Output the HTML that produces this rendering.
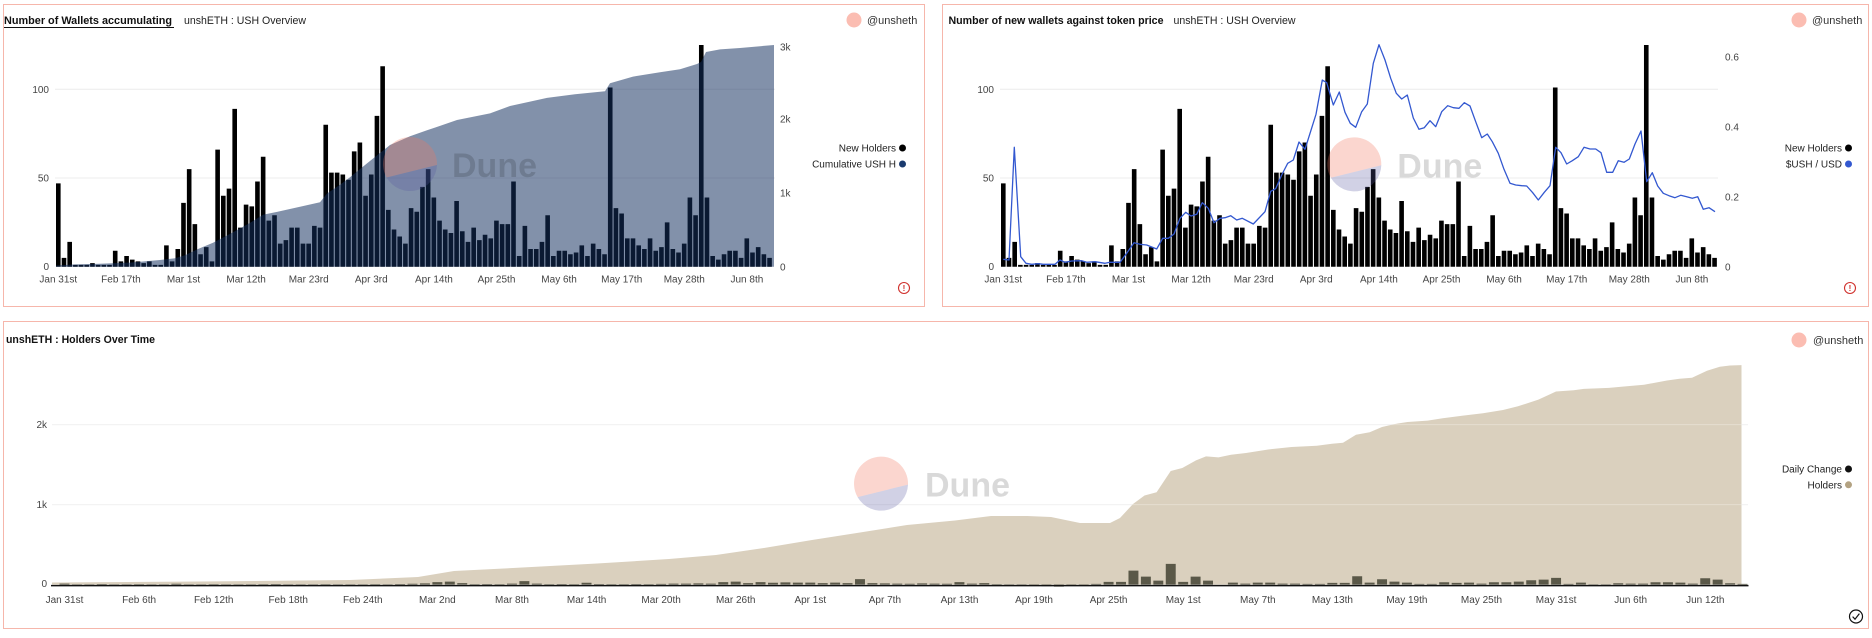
<!DOCTYPE html>
<html>
<head>
<meta charset="utf-8">
<style>
html,body{margin:0;padding:0;background:#fff;}
body{width:1872px;height:638px;overflow:hidden;}
svg{display:block;}
text{font-family:"Liberation Sans",Arial,sans-serif;}
.t{font-size:10px;fill:#444;}
.lg{font-size:10px;fill:#222;}
.ttl{font-size:10.7px;font-weight:bold;fill:#111;}
.sub{font-size:10.7px;fill:#222;}
.usr{font-size:11px;fill:#333;}
.wm{font-size:34px;font-weight:bold;fill:rgba(0,0,0,0.15);}
</style>
</head>
<body>
<svg width="1872" height="638" viewBox="0 0 1872 638" xmlns="http://www.w3.org/2000/svg">
<rect x="0" y="0" width="1872" height="638" fill="#fff"/>

<!-- Panels -->
<rect x="3.5" y="4.5" width="921" height="302" fill="none" stroke="#f6b6ab" stroke-width="1"/>
<rect x="942.5" y="4.5" width="926" height="302" fill="none" stroke="#f6b6ab" stroke-width="1"/>
<rect x="3.5" y="321.5" width="1865" height="307" fill="none" stroke="#f6b6ab" stroke-width="1"/>

<!-- ================= PANEL 1 ================= -->
<text class="ttl" x="4" y="24" textLength="168" lengthAdjust="spacingAndGlyphs">Number of Wallets accumulating</text>
<line x1="4" y1="27.5" x2="174" y2="27.5" stroke="#111" stroke-width="1"/>
<text class="sub" x="184" y="24" textLength="122" lengthAdjust="spacingAndGlyphs">unshETH : USH Overview</text>
<circle cx="854" cy="20" r="7.5" fill="#fbbdb2"/>
<text class="usr" x="867" y="24">@unsheth</text>

<!-- gridlines -->
<line x1="55" y1="89.3" x2="775" y2="89.3" stroke="#ececec" stroke-width="1"/>
<line x1="55" y1="178" x2="775" y2="178" stroke="#ececec" stroke-width="1"/>

<!-- y labels left -->
<text class="t" x="49" y="92.8" text-anchor="end">100</text>
<text class="t" x="49" y="181.5" text-anchor="end">50</text>
<text class="t" x="49" y="270.2" text-anchor="end">0</text>
<!-- y labels right -->
<text class="t" x="780" y="50.5">3k</text>
<text class="t" x="780" y="122.5">2k</text>
<text class="t" x="780" y="196.5">1k</text>
<text class="t" x="780" y="270.5">0</text>

<!-- bars -->
<path fill="#000" transform="translate(56,266.7) scale(5.69,-1.774)" d="M0 0v47h.81v-47h.19v5h.81v-5h.19v14h.81v-14h.19v1h.81v-1h.19v1h.81v-1h.19v1h.81v-1h.19v2h.81v-2h.19v1h.81v-1h.19v1h.81v-1h.19v1h.81v-1h.19v9h.81v-9h.19v3h.81v-3h.19v6h.81v-6h.19v4h.81v-4h.19v3h.81v-3h.19v2h.81v-2h.19v3h.81v-3h.19v1h.81v-1h.19v1h.81v-1h.19v12h.81v-12h.19v3h.81v-3h.19v10h.81v-10h.19v36h.81v-36h.19v55h.81v-55h.19v24h.81v-24h.19v7h.81v-7h.19v11h.81v-11h.19v3h.81v-3h.19v66h.81v-66h.19v40h.81v-40h.19v44h.81v-44h.19v89h.81v-89h.19v22h.81v-22h.19v35h.81v-35h.19v34h.81v-34h.19v48h.81v-48h.19v62h.81v-62h.19v26h.81v-26h.19v29h.81v-29h.19v13h.81v-13h.19v15h.81v-15h.19v22h.81v-22h.19v22h.81v-22h.19v13h.81v-13h.19v13h.81v-13h.19v23h.81v-23h.19v22h.81v-22h.19v80h.81v-80h.19v53h.81v-53h.19v53h.81v-53h.19v52h.81v-52h.19v49h.81v-49h.19v65h.81v-65h.19v70h.81v-70h.19v40h.81v-40h.19v52h.81v-52h.19v85h.81v-85h.19v113h.81v-113h.19v32h.81v-32h.19v21h.81v-21h.19v17h.81v-17h.19v13h.81v-13h.19v33h.81v-33h.19v31h.81v-31h.19v45h.81v-45h.19v55h.81v-55h.19v39h.81v-39h.19v26h.81v-26h.19v21h.81v-21h.19v19h.81v-19h.19v37h.81v-37h.19v20h.81v-20h.19v14h.81v-14h.19v22h.81v-22h.19v15h.81v-15h.19v18h.81v-18h.19v16h.81v-16h.19v26h.81v-26h.19v24h.81v-24h.19v24h.81v-24h.19v48h.81v-48h.19v6h.81v-6h.19v23h.81v-23h.19v10h.81v-10h.19v10h.81v-10h.19v14h.81v-14h.19v29h.81v-29h.19v6h.81v-6h.19v9h.81v-9h.19v9h.81v-9h.19v7h.81v-7h.19v8h.81v-8h.19v12h.81v-12h.19v6h.81v-6h.19v13h.81v-13h.19v10h.81v-10h.19v7h.81v-7h.19v101h.81v-101h.19v33h.81v-33h.19v30h.81v-30h.19v16h.81v-16h.19v16h.81v-16h.19v12h.81v-12h.19v10h.81v-10h.19v16h.81v-16h.19v9h.81v-9h.19v11h.81v-11h.19v25h.81v-25h.19v10h.81v-10h.19v8h.81v-8h.19v13h.81v-13h.19v39h.81v-39h.19v29h.81v-29h.19v125h.81v-125h.19v39h.81v-39h.19v6h.81v-6h.19v4h.81v-4h.19v7h.81v-7h.19v9h.81v-9h.19v9h.81v-9h.19v5h.81v-5h.19v16h.81v-16h.19v8h.81v-8h.19v11h.81v-11h.19v7h.81v-7h.19v5h.81v-5h.19"/>

<!-- cumulative area -->
<polygon fill="#132f5e" fill-opacity="0.53" points="56,266.7 56,265.5 75,264.4 100,263.7 130,262.6 160,260 175,258.2 185,255.2 198,249 213,242.7 230,233.9 250,222.9 263,214.8 277,211.9 300,206.7 320,202.3 327,193.5 340,184.7 350,177.3 367,163.4 390,145 410,136.2 427,130.3 440,125.9 457,120 490,113.4 510,106 530,101.6 547,97.9 575,94.3 605,91.3 610,83.3 633,76.6 660,72.2 680,69.3 697,64 701,62 706,52 720,49.4 740,48 774,45 774,266.7"/>

<!-- watermark 1 -->
<g transform="translate(410,164)">
<path d="M-23.4,13.5 A27,27 0 1,1 27,1 Z" fill="rgba(242,120,95,0.3)"/>
<path d="M27,1 A27,27 0 0,1 -23.4,13.5 Z" fill="rgba(90,90,160,0.28)"/>
<text class="wm" x="42" y="13">Dune</text>
</g>

<!-- x labels -->
<g class="t" text-anchor="middle">
<text class="t" x="58.3" y="282.5" text-anchor="middle">Jan 31st</text>
<text class="t" x="120.9" y="282.5" text-anchor="middle">Feb 17th</text>
<text class="t" x="183.5" y="282.5" text-anchor="middle">Mar 1st</text>
<text class="t" x="246.1" y="282.5" text-anchor="middle">Mar 12th</text>
<text class="t" x="308.7" y="282.5" text-anchor="middle">Mar 23rd</text>
<text class="t" x="371.3" y="282.5" text-anchor="middle">Apr 3rd</text>
<text class="t" x="433.9" y="282.5" text-anchor="middle">Apr 14th</text>
<text class="t" x="496.5" y="282.5" text-anchor="middle">Apr 25th</text>
<text class="t" x="559.1" y="282.5" text-anchor="middle">May 6th</text>
<text class="t" x="621.7" y="282.5" text-anchor="middle">May 17th</text>
<text class="t" x="684.3" y="282.5" text-anchor="middle">May 28th</text>
<text class="t" x="746.9" y="282.5" text-anchor="middle">Jun 8th</text>
</g>

<!-- legend -->
<text class="lg" x="896" y="151.5" text-anchor="end">New Holders</text>
<circle cx="902.5" cy="148" r="3.5" fill="#000"/>
<text class="lg" x="896" y="167.5" text-anchor="end">Cumulative USH H</text>
<circle cx="902.5" cy="164" r="3.5" fill="#1a3a6e"/>

<!-- warning icon -->
<circle cx="904" cy="288" r="5.5" fill="none" stroke="#d0312d" stroke-width="1.1"/>
<text x="904" y="291" font-size="8" font-weight="bold" fill="#d0312d" text-anchor="middle">!</text>

<!-- ================= PANEL 2 ================= -->
<text class="ttl" x="948.5" y="24" textLength="215" lengthAdjust="spacingAndGlyphs">Number of new wallets against token price</text>
<text class="sub" x="1173.5" y="24" textLength="122" lengthAdjust="spacingAndGlyphs">unshETH : USH Overview</text>
<circle cx="1799" cy="20" r="7.5" fill="#fbbdb2"/>
<text class="usr" x="1812" y="24">@unsheth</text>

<line x1="1000" y1="89.3" x2="1718" y2="89.3" stroke="#ececec" stroke-width="1"/>
<line x1="1000" y1="178" x2="1718" y2="178" stroke="#ececec" stroke-width="1"/>

<text class="t" x="994" y="92.8" text-anchor="end">100</text>
<text class="t" x="994" y="181.5" text-anchor="end">50</text>
<text class="t" x="994" y="270.2" text-anchor="end">0</text>
<text class="t" x="1725" y="60.5">0.6</text>
<text class="t" x="1725" y="130.5">0.4</text>
<text class="t" x="1725" y="200.5">0.2</text>
<text class="t" x="1725" y="270.5">0</text>

<path fill="#000" transform="translate(1001,266.7) scale(5.69,-1.774)" d="M0 0v47h.81v-47h.19v5h.81v-5h.19v14h.81v-14h.19v1h.81v-1h.19v1h.81v-1h.19v1h.81v-1h.19v2h.81v-2h.19v1h.81v-1h.19v1h.81v-1h.19v1h.81v-1h.19v9h.81v-9h.19v3h.81v-3h.19v6h.81v-6h.19v4h.81v-4h.19v3h.81v-3h.19v2h.81v-2h.19v3h.81v-3h.19v1h.81v-1h.19v1h.81v-1h.19v12h.81v-12h.19v3h.81v-3h.19v10h.81v-10h.19v36h.81v-36h.19v55h.81v-55h.19v24h.81v-24h.19v7h.81v-7h.19v11h.81v-11h.19v3h.81v-3h.19v66h.81v-66h.19v40h.81v-40h.19v44h.81v-44h.19v89h.81v-89h.19v22h.81v-22h.19v35h.81v-35h.19v34h.81v-34h.19v48h.81v-48h.19v62h.81v-62h.19v26h.81v-26h.19v29h.81v-29h.19v13h.81v-13h.19v15h.81v-15h.19v22h.81v-22h.19v22h.81v-22h.19v13h.81v-13h.19v13h.81v-13h.19v23h.81v-23h.19v22h.81v-22h.19v80h.81v-80h.19v53h.81v-53h.19v53h.81v-53h.19v52h.81v-52h.19v49h.81v-49h.19v65h.81v-65h.19v70h.81v-70h.19v40h.81v-40h.19v52h.81v-52h.19v85h.81v-85h.19v113h.81v-113h.19v32h.81v-32h.19v21h.81v-21h.19v17h.81v-17h.19v13h.81v-13h.19v33h.81v-33h.19v31h.81v-31h.19v45h.81v-45h.19v55h.81v-55h.19v39h.81v-39h.19v26h.81v-26h.19v21h.81v-21h.19v19h.81v-19h.19v37h.81v-37h.19v20h.81v-20h.19v14h.81v-14h.19v22h.81v-22h.19v15h.81v-15h.19v18h.81v-18h.19v16h.81v-16h.19v26h.81v-26h.19v24h.81v-24h.19v24h.81v-24h.19v48h.81v-48h.19v6h.81v-6h.19v23h.81v-23h.19v10h.81v-10h.19v10h.81v-10h.19v14h.81v-14h.19v29h.81v-29h.19v6h.81v-6h.19v9h.81v-9h.19v9h.81v-9h.19v7h.81v-7h.19v8h.81v-8h.19v12h.81v-12h.19v6h.81v-6h.19v13h.81v-13h.19v10h.81v-10h.19v7h.81v-7h.19v101h.81v-101h.19v33h.81v-33h.19v30h.81v-30h.19v16h.81v-16h.19v16h.81v-16h.19v12h.81v-12h.19v10h.81v-10h.19v16h.81v-16h.19v9h.81v-9h.19v11h.81v-11h.19v25h.81v-25h.19v10h.81v-10h.19v8h.81v-8h.19v13h.81v-13h.19v39h.81v-39h.19v29h.81v-29h.19v125h.81v-125h.19v39h.81v-39h.19v6h.81v-6h.19v4h.81v-4h.19v7h.81v-7h.19v9h.81v-9h.19v9h.81v-9h.19v5h.81v-5h.19v16h.81v-16h.19v8h.81v-8h.19v11h.81v-11h.19v7h.81v-7h.19v5h.81v-5h.19"/>

<!-- watermark 2 -->
<g transform="translate(1354.3,164.3)">
<path d="M-23.4,13.5 A27,27 0 1,1 27,1 Z" fill="rgba(242,120,95,0.3)"/>
<path d="M27,1 A27,27 0 0,1 -23.4,13.5 Z" fill="rgba(90,90,160,0.28)"/>
<text class="wm" x="43" y="13">Dune</text>
</g>

<!-- price line -->
<polyline fill="none" stroke="#3358d0" stroke-width="1.3" stroke-linejoin="round" points="1003.3,259.3 1009,260 1014.3,147.3 1020.7,256.7 1026,263.3 1031.7,264.3 1038.3,263.7 1043.3,264.3 1055,264.3 1060,260 1065,262.3 1071.7,261 1081.7,260.7 1086.7,262.3 1095,261.7 1105,263.3 1110,262.3 1120,262.3 1126.7,253.3 1134,242.7 1140,244.3 1146.7,245 1156.7,249 1162.7,238.3 1168.3,238.3 1174,234 1180,218.3 1185.7,212.3 1191,216 1196.7,214.3 1202.3,202.7 1208.3,208.3 1214,222.7 1220,218.3 1225,217.7 1230.7,215.7 1236.7,220 1242.3,218.3 1253.3,224 1265,211.7 1270.7,191.3 1275.7,188.7 1281.7,175 1287.7,163.3 1293.3,160 1299,142 1305,149.3 1316,114.3 1322.3,80 1326.7,82.7 1333.3,105 1339.3,92 1345,112.3 1350.3,123.3 1355.7,127.3 1361.7,111.7 1367.3,104 1373.3,63.3 1379,44.7 1385,60 1390.7,78.3 1396.3,93.3 1401.7,99 1407.3,95 1413.3,118 1419,129.3 1424.3,127.7 1430,120.7 1435.7,126.7 1441.7,111.7 1447.7,105.7 1453.3,107.7 1459,108.3 1464.3,102.7 1470,106 1475.7,121.7 1481.7,137.7 1487.3,134 1492.3,141.7 1498.3,153.3 1504,169.3 1510,183.3 1515.7,185 1521.7,185.7 1526.7,186 1532.7,192.7 1538.3,200 1544.3,192.3 1550,185.7 1555.7,147.3 1561,152.7 1566.7,164 1572.3,160.7 1578.3,156.7 1584,147.3 1590,149 1595.7,149 1601,152.7 1606.7,172.3 1612.7,172.3 1618.3,160.7 1624,162.3 1629.3,159 1635,144 1641,131 1646.7,181.7 1652.3,172.7 1657.7,186 1663.3,193.3 1669,195.7 1675,197.7 1680.7,195.3 1686.7,196.7 1692.3,198.3 1697.7,196.7 1703.3,209.3 1709,207.7 1715,211.7"/>

<text class="t" x="1003.3" y="282.5" text-anchor="middle">Jan 31st</text>
<text class="t" x="1065.9" y="282.5" text-anchor="middle">Feb 17th</text>
<text class="t" x="1128.5" y="282.5" text-anchor="middle">Mar 1st</text>
<text class="t" x="1191.1" y="282.5" text-anchor="middle">Mar 12th</text>
<text class="t" x="1253.7" y="282.5" text-anchor="middle">Mar 23rd</text>
<text class="t" x="1316.3" y="282.5" text-anchor="middle">Apr 3rd</text>
<text class="t" x="1378.9" y="282.5" text-anchor="middle">Apr 14th</text>
<text class="t" x="1441.5" y="282.5" text-anchor="middle">Apr 25th</text>
<text class="t" x="1504.1" y="282.5" text-anchor="middle">May 6th</text>
<text class="t" x="1566.7" y="282.5" text-anchor="middle">May 17th</text>
<text class="t" x="1629.3" y="282.5" text-anchor="middle">May 28th</text>
<text class="t" x="1691.9" y="282.5" text-anchor="middle">Jun 8th</text>

<text class="lg" x="1842" y="151.5" text-anchor="end">New Holders</text>
<circle cx="1848.5" cy="148" r="3.5" fill="#000"/>
<text class="lg" x="1842" y="167.5" text-anchor="end">$USH / USD</text>
<circle cx="1848.5" cy="164" r="3.5" fill="#3358d0"/>

<circle cx="1850" cy="288" r="5.5" fill="none" stroke="#d0312d" stroke-width="1.1"/>
<text x="1850" y="291" font-size="8" font-weight="bold" fill="#d0312d" text-anchor="middle">!</text>

<!-- ================= PANEL 3 ================= -->
<text class="ttl" x="6" y="343" textLength="149" lengthAdjust="spacingAndGlyphs">unshETH : Holders Over Time</text>
<circle cx="1799" cy="340" r="7.5" fill="#fbbdb2"/>
<text class="usr" x="1813" y="344">@unsheth</text>

<line x1="52" y1="424.6" x2="1748" y2="424.6" stroke="#ececec" stroke-width="1"/>
<line x1="52" y1="504.6" x2="1748" y2="504.6" stroke="#ececec" stroke-width="1"/>

<polygon fill="#dad0be" points="52,584.6 52,582.5 200,581.5 350,580 418,577 454,571 513,568 597,563.5 669,559 716,555 764,548 812,540 860,532.5 907,525 955,520.5 991,516 1027,516 1051,517 1080,523 1110,523 1120,518 1133,504 1144.5,495.5 1156.6,492.2 1170.7,471 1182.3,468 1196,460.4 1206,456.4 1218.5,457.4 1231,454.7 1246,453 1269,449.4 1291.6,447 1316.8,445.7 1332,443.7 1343,442.7 1356,434.7 1369.7,432.3 1382,427 1395,424 1407.5,422 1427.6,420.6 1442.7,418.3 1463,415.6 1483,413.3 1503,410 1518,406.3 1538.4,399.6 1556,391.5 1573.7,390.2 1583.8,388.9 1609,387.9 1624,386.5 1644,384.8 1667,380.5 1679.5,378.8 1692,377.8 1707,370.8 1719.8,366.8 1730,365.5 1741.5,365.1 1741.5,584.6"/>
<line x1="52" y1="424.6" x2="1748" y2="424.6" stroke="rgba(255,255,255,0.3)" stroke-width="1"/>
<line x1="52" y1="504.6" x2="1748" y2="504.6" stroke="rgba(255,255,255,0.3)" stroke-width="1"/>

<!-- watermark 3 -->
<g transform="translate(881,483.6)">
<path d="M-23.4,13.5 A27,27 0 1,1 27,1 Z" fill="rgba(242,120,95,0.3)"/>
<path d="M27,1 A27,27 0 0,1 -23.4,13.5 Z" fill="rgba(90,90,160,0.28)"/>
<text class="wm" x="44" y="13">Dune</text>
</g>

<!-- daily change bars -->
<path fill="#5a5848" transform="translate(59.5,584.6) scale(12.43,-1)" d="M0 0v1h.8v-1h.2v.4h.8v-.4h.2v.4h.8v-.4h.2v.6h.8v-.6h.2v.4h.8v-.4h.2v.3h.8v-.3h.2v.5h.8v-.5h.2v.4h.8v-.4h.2v.4h.8v-.4h.2v.8h.8v-.8h.2v.4h.8v-.4h.2v.3h.8v-.3h.2v.5h.8v-.5h.2v.4h.8v-.4h.2v.4h.8v-.4h.2v.3h.8v-.3h.2v.5h.8v-.5h.2v.6h.8v-.6h.2v.4h.8v-.4h.2v.3h.8v-.3h.2v.4h.8v-.4h.2v.5h.8v-.5h.2v.4h.8v-.4h.2v.3h.8v-.3h.2v.4h.8v-.4h.2v.5h.8v-.5h.2v.4h.8v-.4h.2v.6h.8v-.6h.2v.8h.8v-.8h.2v1.2h.8v-1.2h.2v2.5h.8v-2.5h.2v3h.8v-3h.2v1.5h.8v-1.5h.2v.5h.8v-.5h.2v.6h.8v-.6h.2v.5h.8v-.5h.2v1h.8v-1h.2v3.5h.8v-3.5h.2v1h.8v-1h.2v.5h.8v-.5h.2v.6h.8v-.6h.2v.5h.8v-.5h.2v1.8h.8v-1.8h.2v.6h.8v-.6h.2v.5h.8v-.5h.2v.5h.8v-.5h.2v.6h.8v-.6h.2v.5h.8v-.5h.2v.7h.8v-.7h.2v1h.8v-1h.2v1h.8v-1h.2v1.2h.8v-1.2h.2v1h.8v-1h.2v2.5h.8v-2.5h.2v3h.8v-3h.2v1.5h.8v-1.5h.2v2.5h.8v-2.5h.2v1.8h.8v-1.8h.2v2.2h.8v-2.2h.2v2h.8v-2h.2v2h.8v-2h.2v1.5h.8v-1.5h.2v2h.8v-2h.2v1.5h.8v-1.5h.2v5.5h.8v-5.5h.2v1.5h.8v-1.5h.2v1.2h.8v-1.2h.2v1h.8v-1h.2v.8h.8v-.8h.2v1.2h.8v-1.2h.2v1h.8v-1h.2v.8h.8v-.8h.2v2.5h.8v-2.5h.2v1h.8v-1h.2v1.5h.8v-1.5h.2v.5h.8v-.5h.2v.3h.8v-.3h.2v.3h.8v-.3h.2v-.5h.8v.5h.2v-1.5h.8v1.5h.2v-2h.8v2h.2v-.5h.8v.5h.2v-.5h.8v.5h.2v.7h.8v-.7h.2v2.7h.8v-2.7h.2v2.7h.8v-2.7h.2v14h.8v-14h.2v8h.8v-8h.2v4h.8v-4h.2v20.7h.8v-20.7h.2v2.7h.8v-2.7h.2v8h.8v-8h.2v4h.8v-4h.2h1v2h.8v-2h.2v1h.8v-1h.2v2h.8v-2h.2v2h.8v-2h.2v1h.8v-1h.2v1h.8v-1h.2v.7h.8v-.7h.2v.7h.8v-.7h.2v1.7h.8v-1.7h.2v1.7h.8v-1.7h.2v8.4h.8v-8.4h.2v2h.8v-2h.2v5.4h.8v-5.4h.2v3h.8v-3h.2v2h.8v-2h.2v.7h.8v-.7h.2v.7h.8v-.7h.2v2.3h.8v-2.3h.2v1.7h.8v-1.7h.2v2h.8v-2h.2v1h.8v-1h.2v2.3h.8v-2.3h.2v2.3h.8v-2.3h.2v3h.8v-3h.2v4.3h.8v-4.3h.2v5h.8v-5h.2v6.7h.8v-6.7h.2v.7h.8v-.7h.2v2h.8v-2h.2v.3h.8v-.3h.2v.3h.8v-.3h.2v1.3h.8v-1.3h.2v1h.8v-1h.2v1h.8v-1h.2v2.3h.8v-2.3h.2v2.3h.8v-2.3h.2v2h.8v-2h.2v1h.8v-1h.2v6.4h.8v-6.4h.2v5h.8v-5h.2v1.3h.8v-1.3h.2v.7h.8v-.7h.2"/>

<!-- axis line -->
<line x1="51" y1="585.6" x2="1748.5" y2="585.6" stroke="#111" stroke-width="1.5"/>

<!-- y labels -->
<text class="t" x="47" y="428.1" text-anchor="end">2k</text>
<text class="t" x="47" y="508.1" text-anchor="end">1k</text>
<text class="t" x="47" y="587" text-anchor="end">0</text>

<!-- x labels -->
<text class="t" x="64.5" y="603" text-anchor="middle">Jan 31st</text>
<text class="t" x="139.1" y="603" text-anchor="middle">Feb 6th</text>
<text class="t" x="213.7" y="603" text-anchor="middle">Feb 12th</text>
<text class="t" x="288.2" y="603" text-anchor="middle">Feb 18th</text>
<text class="t" x="362.8" y="603" text-anchor="middle">Feb 24th</text>
<text class="t" x="437.4" y="603" text-anchor="middle">Mar 2nd</text>
<text class="t" x="512" y="603" text-anchor="middle">Mar 8th</text>
<text class="t" x="586.6" y="603" text-anchor="middle">Mar 14th</text>
<text class="t" x="661.1" y="603" text-anchor="middle">Mar 20th</text>
<text class="t" x="735.7" y="603" text-anchor="middle">Mar 26th</text>
<text class="t" x="810.3" y="603" text-anchor="middle">Apr 1st</text>
<text class="t" x="884.9" y="603" text-anchor="middle">Apr 7th</text>
<text class="t" x="959.5" y="603" text-anchor="middle">Apr 13th</text>
<text class="t" x="1034" y="603" text-anchor="middle">Apr 19th</text>
<text class="t" x="1108.6" y="603" text-anchor="middle">Apr 25th</text>
<text class="t" x="1183.2" y="603" text-anchor="middle">May 1st</text>
<text class="t" x="1257.8" y="603" text-anchor="middle">May 7th</text>
<text class="t" x="1332.4" y="603" text-anchor="middle">May 13th</text>
<text class="t" x="1406.9" y="603" text-anchor="middle">May 19th</text>
<text class="t" x="1481.5" y="603" text-anchor="middle">May 25th</text>
<text class="t" x="1556.1" y="603" text-anchor="middle">May 31st</text>
<text class="t" x="1630.7" y="603" text-anchor="middle">Jun 6th</text>
<text class="t" x="1705.3" y="603" text-anchor="middle">Jun 12th</text>

<!-- legend -->
<text class="lg" x="1842" y="472.5" text-anchor="end">Daily Change</text>
<circle cx="1848.5" cy="469" r="3.5" fill="#111"/>
<text class="lg" x="1842" y="488.3" text-anchor="end">Holders</text>
<circle cx="1848.5" cy="484.8" r="3.5" fill="#b3a282"/>

<!-- check icon -->
<circle cx="1856" cy="616.5" r="6.5" fill="none" stroke="#111" stroke-width="1.2"/>
<path d="M1852.6,616.6 L1855,619.2 L1859.4,613.6" fill="none" stroke="#111" stroke-width="1.2"/>
</svg>
</body>
</html>
